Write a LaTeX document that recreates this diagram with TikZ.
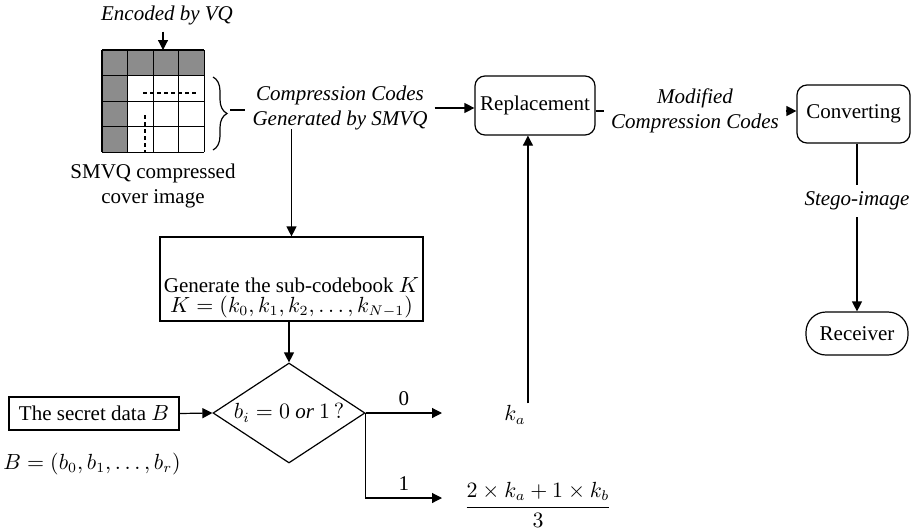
\documentclass[tikz,border=0pt]{standalone}
\usepackage{amsmath}
\usepackage{fontspec}
\setmainfont{Liberation Serif}
\usetikzlibrary{shapes.geometric,arrows.meta,positioning,decorations.pathreplacing}
\definecolor{cellgrey}{RGB}{140,140,140}

\begin{document}
\begin{tikzpicture}[
  x=0.5pt, y=-0.5pt,
  every node/.style = {font=\fontsize{10.5}{12.5}\selectfont},
  box/.style  = {draw, line width=0.6pt, align=center, inner sep=2pt},
  rbox/.style = {box, rounded corners=5pt},
  dec/.style  = {draw, line width=0.6pt, diamond, aspect=1.5,
                 minimum width=76pt, minimum height=50pt, inner sep=0pt},
  itl/.style  = {font=\fontsize{10.5}{12.5}\selectfont\itshape, align=center},
  lin/.style  = {line width=0.6pt},
  arr/.style  = {lin, -{Triangle[length=5pt,width=5pt]}},
]
\useasboundingbox (0,0) rectangle (911,531);

%% ---------- COVER IMAGE ----------
\node[itl] (enc) at (167,15) {Encoded by VQ};
\coordinate (gtop) at (163,50);
\draw[arr] (enc.south -| gtop) -- (gtop);

\fill[cellgrey] (102,50) rectangle (204.4,75.6);
\fill[cellgrey] (102,75.6) rectangle (127.6,152.4);
\foreach \k in {0,...,4} {
  \draw[lin] (102+25.6*\k,50) -- ++(0,102.4);
  \draw[lin] (102,50+25.6*\k) -- ++(102.4,0);
}
\draw[lin, dash pattern=on 2pt off 1.5pt] (143,93) -- (197,93);
\draw[lin, dash pattern=on 2pt off 1.5pt] (145,115) -- (145,152);

\node[align=center] (smvq) at (153,186) {SMVQ compressed\\cover image};

\draw[lin, decorate, decoration={brace, amplitude=7pt}] (213,77) -- (213,150);
\coordinate (btip) at (230,110);
\draw[lin] (btip) -- ++(15,0);

%% ---------- TOP ROW ----------
\node[itl] (cc) at (340,108) {Compression Codes\\Generated by SMVQ};
\node[rbox, minimum width=60pt, minimum height=29.5pt] (rep) at (535,105.5) {Replacement};
\draw[arr] (cc.east) -- (cc.east -| rep.west);

\node[itl] (mcc) at (695,111) {Modified\\Compression Codes};
\node[rbox, minimum width=56.5pt, minimum height=29pt] (conv) at (853.5,114) {Converting};
\draw[lin] (mcc.west -| rep.east) -- (mcc.west);
\draw[arr] (mcc.east) -- (mcc.east -| conv.west);

\node[box, rounded corners=10pt, minimum width=51pt, minimum height=21.5pt] (rec) at (857,333.5) {Receiver};
\draw[arr] (rec.north |- conv.south) -- node[itl, fill=white, pos=0.34] {Stego-image} (rec.north);

%% ---------- SUB-CODEBOOK ----------
\node[box, inner ysep=0pt, minimum width=128.5pt, minimum height=42pt] (gen) at (291.5,279)
  {\rule{0pt}{26pt}Generate the sub-codebook $K$\\[-2.5pt]$K = \left(k_0, k_1, k_2, \ldots, k_{N-1}\right)$};
\draw[arr] ([yshift=4pt]gen.north |- cc.south) -- (gen.north);

\node[dec] (dia) at (289,413) {$b_i = 0\ \mathit{or}\ 1\,?$};
\draw[arr] (gen.south -| dia.north) -- (dia.north);

\node[box, minimum width=85pt, minimum height=16.5pt] (sec) at (94,413.5) {The secret data $B$};
\node (bset) at (92,464) {$B = \left(b_0, b_1, \ldots, b_r\right)$};
\draw[arr] (sec.east) -- (dia.west);

%% ---------- EMBEDDING ----------
\coordinate (z0) at (442,413);
\coordinate (z1) at (442,498);
\draw[arr] (dia.east) -- node[above] {0} (z0);
\draw[arr] (dia.east) |- node[above, pos=0.75] {1} (z1);

\node[inner sep=1pt] (ka) at (515,415) {$k_a$};
\node (frac) at (538,505) {$\dfrac{2\times k_a + 1\times k_b}{3}$};
\draw[arr] (ka.north east) -- (ka.north east |- rep.south);

\end{tikzpicture}
\end{document}
